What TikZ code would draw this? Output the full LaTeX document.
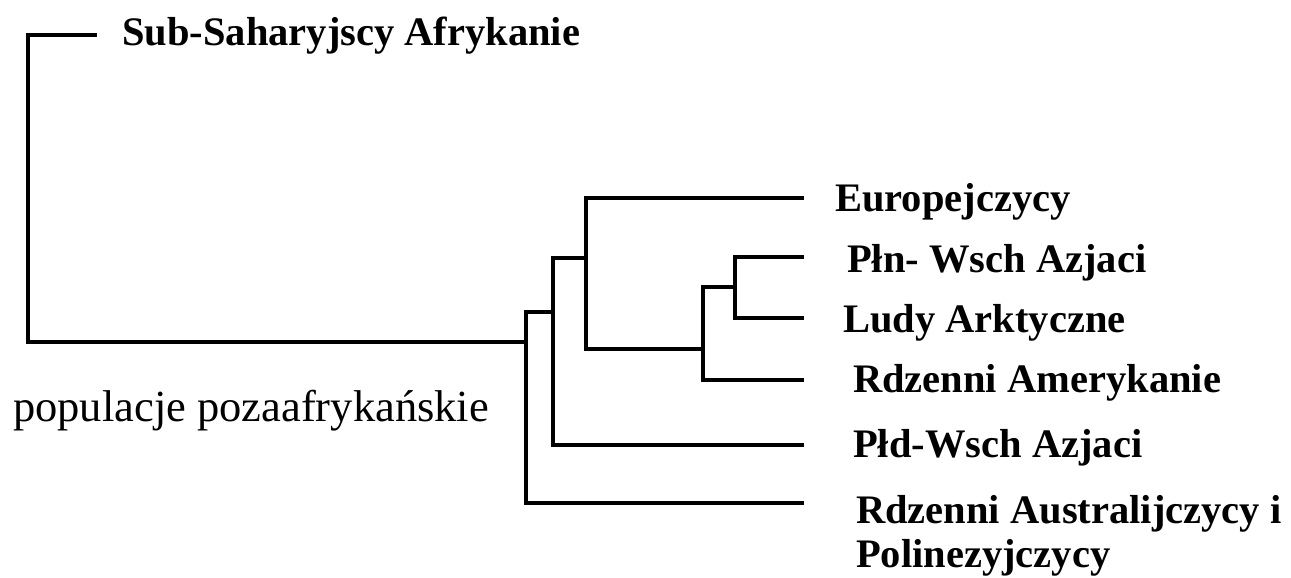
\documentclass[tikz,border=0pt]{standalone}
\usepackage{fontspec}
\setmainfont{Liberation Serif}
\begin{document}
\begin{tikzpicture}[x=1pt,y=-1pt,
  branch/.style={line width=3.2pt,line cap=rect,line join=miter},
  rootbranch/.style={line width=4pt,line cap=rect},
  leaf/.style={anchor=base west,inner sep=0pt,font=\fontsize{40.5}{44}\selectfont\bfseries},
  note/.style={anchor=base west,inner sep=0pt,font=\fontsize{44.5}{48}\selectfont}]
\useasboundingbox (0,0) rectangle (1291,578);
% internal joins
\coordinate (root) at (28,342);
\coordinate (n1) at (526,342);
\coordinate (n2) at (553,312);
\coordinate (n3) at (586,258);
\coordinate (n4) at (703,349);
\coordinate (n5) at (735,287);
% leaf ends
\coordinate (e0) at (95,35);
\coordinate (e1) at (802,198);
\coordinate (e2) at (802,257);
\coordinate (e3) at (802,318);
\coordinate (e4) at (802,380);
\coordinate (e5) at (802,445);
\coordinate (e6) at (802,503);
% labels
\node[leaf] (t0) at (122,46) {Sub-Saharyjscy Afrykanie};
\node[leaf] (t1) at (835,211) {Europejczycy};
\node[leaf] (t2) at (847,272) {Płn- Wsch Azjaci};
\node[leaf] (t3) at (843,332) {Ludy Arktyczne};
\node[leaf] (t4) at (853,392) {Rdzenni Amerykanie};
\node[leaf] (t5) at (853,457) {Płd-Wsch Azjaci};
\node[leaf,align=left] (t6) at (856,567) {Rdzenni Australijczycy i\\Polinezyjczycy};
\node[note] (tn) at (13,421) {populacje pozaafrykańskie};
% tree
\draw[branch] (e2) -| (n5) |- (e3);
\draw[branch] (n5) -| (n4) |- (e4);
\draw[branch] (e1) -| (n3) |- (n4);
\draw[branch] (n3) -| (n2) |- (e5);
\draw[branch] (n2) -| (n1) |- (e6);
\draw[branch] (e0) -| (root);
\draw[rootbranch] (root) -- (n1);
\end{tikzpicture}
\end{document}
